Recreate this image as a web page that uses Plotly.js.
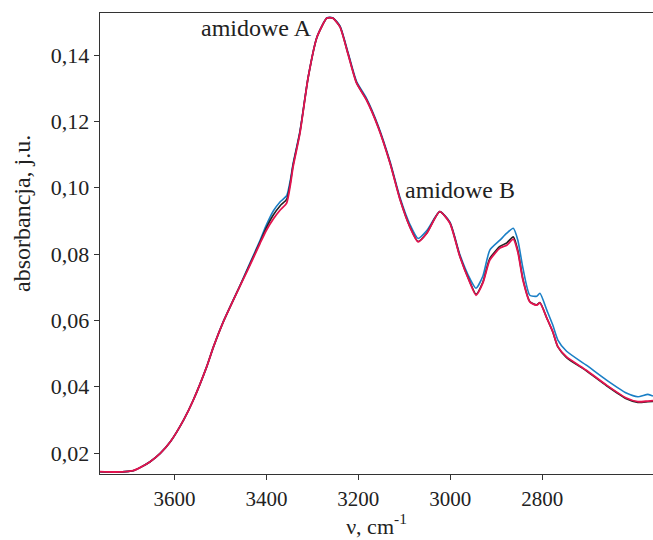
<!DOCTYPE html>
<html>
<head>
<meta charset="utf-8">
<script src="https://cdn.plot.ly/plotly-3.0.1.min.js"></script>
<style>html,body{margin:0;padding:0;background:#fff;}#chart{width:653px;height:540px;}</style>
</head>
<body>
<div id="chart"></div>
<script>
var wavenumber = [3762, 3730, 3700, 3690, 3674, 3653, 3631, 3609, 3580, 3559, 3530, 3515, 3494, 3457, 3440, 3414, 3400, 3385, 3370, 3356, 3348, 3342, 3327, 3309, 3290, 3269, 3262, 3255, 3240, 3223, 3204, 3182, 3157, 3131, 3109, 3088, 3070, 3051, 3023, 3001, 2979, 2957, 2944, 2929, 2914, 2892, 2877, 2863, 2853, 2842, 2827, 2812, 2805, 2790, 2777, 2766, 2747, 2704, 2660, 2617, 2592, 2570, 2559];

var absBlue = [0.0144, 0.0143, 0.0145, 0.0147, 0.0157, 0.0174, 0.0199, 0.0234, 0.0300, 0.0360, 0.0460, 0.0521, 0.0596, 0.0707, 0.0760, 0.0841, 0.0888, 0.0930, 0.0958, 0.0976, 0.1023, 0.1073, 0.1171, 0.1335, 0.1455, 0.1512, 0.1514, 0.1512, 0.1488, 0.1411, 0.1321, 0.1269, 0.1188, 0.1079, 0.0969, 0.0890, 0.0847, 0.0871, 0.0928, 0.0897, 0.0798, 0.0725, 0.0697, 0.0734, 0.0812, 0.0842, 0.0863, 0.0878, 0.0842, 0.0758, 0.0676, 0.0673, 0.0682, 0.0631, 0.0586, 0.0541, 0.0507, 0.0465, 0.0420, 0.0381, 0.0370, 0.0377, 0.0372];

var absBlack = [0.0144, 0.0143, 0.0145, 0.0147, 0.0157, 0.0174, 0.0199, 0.0234, 0.0300, 0.0360, 0.0460, 0.0521, 0.0595, 0.0706, 0.0757, 0.0836, 0.0880, 0.0918, 0.0946, 0.0965, 0.1015, 0.1068, 0.1168, 0.1334, 0.1454, 0.1511, 0.1513, 0.1511, 0.1486, 0.1407, 0.1317, 0.1265, 0.1184, 0.1075, 0.0964, 0.0883, 0.0838, 0.0864, 0.0928, 0.0895, 0.0793, 0.0715, 0.0679, 0.0716, 0.0787, 0.0823, 0.0834, 0.0852, 0.0811, 0.0725, 0.0657, 0.0647, 0.0654, 0.0607, 0.0565, 0.0520, 0.0488, 0.0448, 0.0403, 0.0364, 0.0353, 0.0355, 0.0356];

var absRed = [0.0144, 0.0143, 0.0145, 0.0147, 0.0157, 0.0174, 0.0199, 0.0234, 0.0300, 0.0360, 0.0460, 0.0521, 0.0595, 0.0705, 0.0754, 0.0832, 0.0872, 0.0906, 0.0933, 0.0954, 0.1008, 0.1063, 0.1165, 0.1334, 0.1454, 0.1511, 0.1513, 0.1511, 0.1485, 0.1406, 0.1316, 0.1264, 0.1183, 0.1074, 0.0963, 0.0882, 0.0837, 0.0863, 0.0928, 0.0894, 0.0792, 0.0713, 0.0676, 0.0713, 0.0782, 0.0818, 0.0827, 0.0845, 0.0806, 0.0722, 0.0656, 0.0646, 0.0653, 0.0607, 0.0566, 0.0521, 0.0490, 0.0450, 0.0405, 0.0366, 0.0355, 0.0357, 0.0358];

var yTickVals = [0.02, 0.04, 0.06, 0.08, 0.10, 0.12, 0.14];
var xTickVals = [3600, 3400, 3200, 3000, 2800];

var annText = ["amidowe A", "amidowe B"];
var annX = [3422, 2978];
var annY = [0.1481, 0.0993];

var serif = "Liberation Serif, Times New Roman, serif";
var ink = "#222222";

function tr(y, color, w) {
  return {x: wavenumber, y: y, type: "scatter", mode: "lines",
          line: {color: color, width: w, shape: "spline", smoothing: 0.6},
          hoverinfo: "skip", showlegend: false};
}

var data = [tr(absBlue, "#1a7fc6", 1.6), tr(absBlack, "#222222", 1.6), tr(absRed, "#e3134f", 1.8)];

var anns = annText.map(function (t, i) {
  return {text: t, x: annX[i], y: annY[i], xref: "x", yref: "y",
          showarrow: false, font: {family: serif, size: 24, color: ink}};
});
anns.push({text: "absorbancja, j.u.", xref: "paper", yref: "paper", x: 0, y: 0.564,
           xanchor: "center", xshift: -78, textangle: -90, showarrow: false,
           font: {family: serif, size: 24, color: ink}});

var layout = {
  width: 653, height: 540,
  margin: {l: 100, r: 0, t: 13, b: 66},
  paper_bgcolor: "#ffffff", plot_bgcolor: "#ffffff",
  separators: ", ",
  font: {family: serif, size: 21, color: ink},
  xaxis: {
    range: [3762, 2559], autorange: false,
    tickvals: xTickVals,
    ticks: "outside", ticklen: 5, tickcolor: "#333",
    showline: true, linecolor: "#333", linewidth: 1.3, mirror: true,
    showgrid: false, zeroline: false,
    tickformat: "d",
    tickfont: {family: serif, size: 21, color: ink},
    title: {text: "ν, cm<sup>-1</sup>", font: {family: serif, size: 22, color: ink}, standoff: 2}
  },
  yaxis: {
    range: [0.0137, 0.1527], autorange: false,
    tickvals: yTickVals,
    tickformat: ".2f",
    ticks: "outside", ticklen: 5, tickcolor: "#333",
    showline: true, linecolor: "#333", linewidth: 1.3,
    showgrid: false, zeroline: false,
    tickfont: {family: serif, size: 22, color: ink}
  },
  annotations: anns
};

Plotly.newPlot("chart", data, layout, {staticPlot: true, displayModeBar: false});
</script>
</body>
</html>
